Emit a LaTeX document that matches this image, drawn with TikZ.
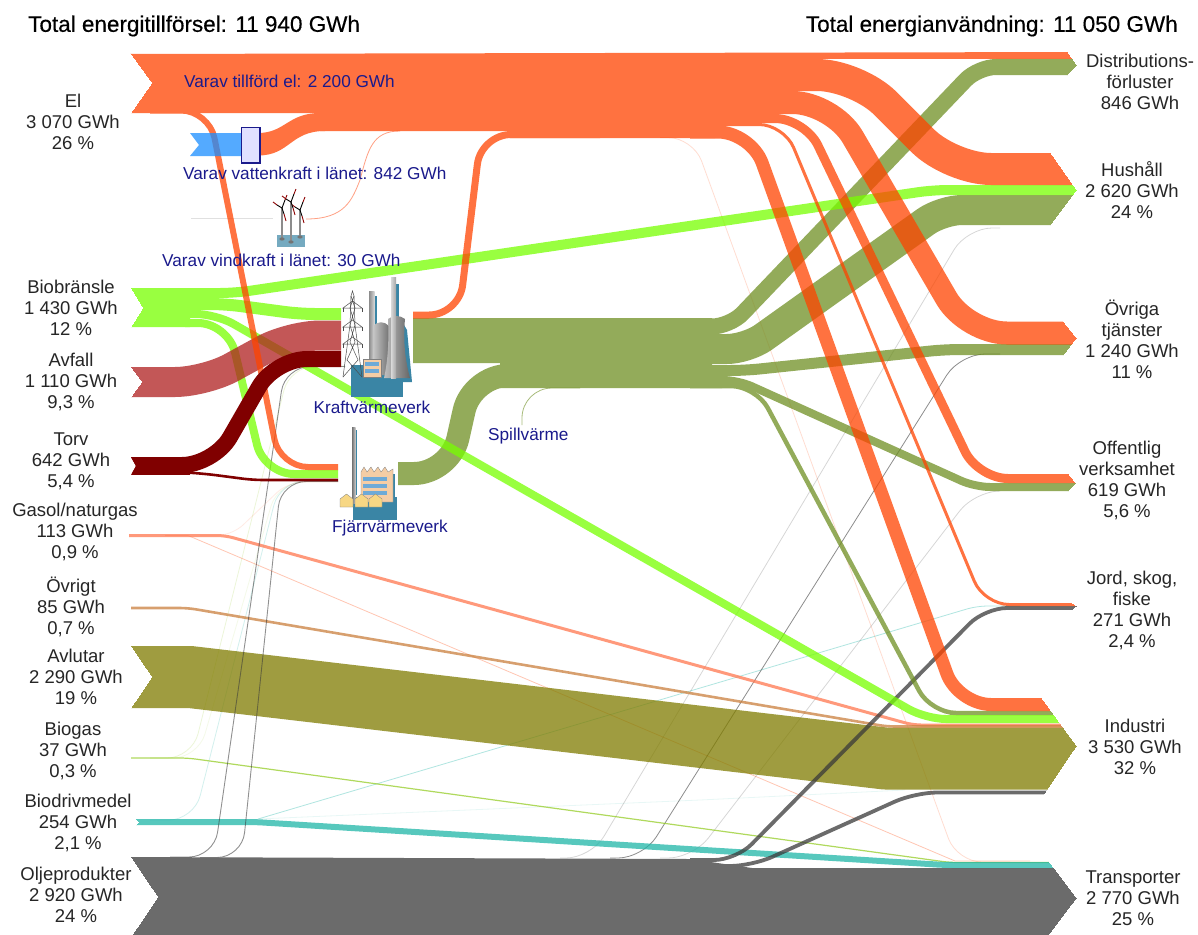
\documentclass[tikz,border=0pt]{standalone}
\usepackage{fontspec}
\setmainfont{Liberation Sans}
\newfontfamily\titlefont[FakeBold=0.35]{Liberation Sans}
\definecolor{cOrange}{RGB}{255,68,0}
\definecolor{cOlive}{RGB}{111,143,35}
\definecolor{cGreen}{RGB}{119,255,0}
\definecolor{cRed}{RGB}{175,31,31}
\definecolor{cMaroon}{RGB}{128,0,0}
\definecolor{cAvlut}{RGB}{128,124,0}
\definecolor{cGrey}{RGB}{58,58,58}
\definecolor{cTurq}{RGB}{31,182,168}
\definecolor{cBlue}{RGB}{28,142,255}
\definecolor{cSalmon}{RGB}{255,120,80}
\definecolor{cTan}{RGB}{202,128,62}
\definecolor{cBiogas}{RGB}{150,205,40}
\definecolor{cNavy}{RGB}{26,26,140}
\definecolor{cTeal}{RGB}{58,133,165}
\definecolor{cPeach}{RGB}{245,205,165}
\definecolor{cWin}{RGB}{110,170,215}
\tikzset{
  lab/.style={font=\fontsize{18.5}{21}\selectfont,align=center,text=black!85,inner sep=0pt},
  blab/.style={font=\fontsize{17.2}{20}\selectfont,text=cNavy,inner sep=0pt},
  ttl/.style={font=\fontsize{22.5}{26}\titlefont,text=black,inner sep=0pt},
  band/.style={draw=#1,line join=round,fill=none},
  pale/.style={draw=#1,line width=.8pt,opacity=.3,fill=none},
  grp/.style={transparency group,opacity=.75},
  pyl/.style={draw=black!70,line width=.5pt},
}
\newcommand{\clipregion}{\clip
 (131,54)--(152,83)--(131,113)--(131,288)--(143,308)--(131,327)--(131,367)--(142,382)--(131,397)--
 (131,457)--(136,466)--(131,475)--(129,533)--(129,537)--(131,606)--(131,610)--(131,646)--(152,677)--(131,708)--
 (131,757)--(131,760)--(136,819)--(139,822)--(136,825)--(131,857)--(158,897)--(131,937)--(1048,940)--
 (1048,935)--(1076,898)--(1048,861)--(1043,795)--(1076,746)--(1041,698)--(1071,610)--(1076,606)--(1071,603)--
 (1068,491)--(1075,483)--(1068,474)--(1063,355)--(1076,338)--(1063,322)--(1050,225)--(1076,190)--(1050,153)--
 (1067,75)--(1076,65)--(1067,52)--(1067,40)--(120,40)--cycle;}
\begin{document}
\begin{tikzpicture}[x=1pt,y=-1pt]
\useasboundingbox (0,0) rectangle (1198,934);
\fill[white] (0,0) rectangle (1198,934);

% very pale lines
\draw[pale=black,opacity=.12,line width=.8pt] (191,218)--(273,218);
\draw[pale=cBiogas,opacity=.18,rounded corners=25pt] (150,758)--(192,758)--(290,366)--(345,366);
\draw[pale=cBiogas,opacity=.1,rounded corners=25pt] (150,758)--(198,758)--(278,482)--(338,482);
\draw[pale=cTurq,opacity=.2,rounded corners=25pt] (150,820)--(194,820)--(280,481)--(338,481);
\draw[pale=cSalmon,opacity=.15,rounded corners=15pt] (200,535.5)--(232,535.5)--(288,482)--(338,482);
\draw[pale=cTurq,opacity=.1] (258,819)--(700,800)--(905,790);
\draw[pale=cTurq,opacity=.35,rounded corners=10pt] (258,819)--(977,606)--(1020,606);
\draw[pale=cOrange,opacity=.18,rounded corners=25pt] (660,137.5)--(693,137.5)--(957,862)--(1010,862);
\draw[pale=cOrange,opacity=.3] (165,535.5)--(188,535.5)--(955,861)--(1030,861);
\draw[pale=black,opacity=.16,rounded corners=25pt] (560,858)--(591,858)--(967,228)--(1000,228);
\draw[pale=black,opacity=.45,rounded corners=25pt] (610,858)--(643,858)--(960,354)--(1000,354);
\draw[pale=black,opacity=.16,rounded corners=25pt] (660,858)--(693,858)--(975,491)--(1000,491);
\draw[pale=cOlive,opacity=.6,rounded corners=30pt,line width=.8pt] (522,425)--(522,388)--(580,388);
\draw[pale=cSalmon,opacity=.7,line width=.8pt] (306,219) .. controls (345,219) and (352,200) .. (360,180) .. controls (368,150) and (372,131) .. (400,131);

\begin{scope}
\clipregion
% Avlutar
\begin{scope}[grp]
 \draw[band=cAvlut,line width=62pt] (125,677)--(190,677)--(885,758.5)--(1085,758.5);
\end{scope}
% thin source flows
\begin{scope}[grp]
 \draw[band=cSalmon,line width=3pt,rounded corners=8pt] (125,535.5)--(225,535.5)--(913,725)--(1085,725);
\end{scope}
\begin{scope}[grp]
 \draw[band=cTan,line width=2.6pt,rounded corners=8pt] (125,608)--(188,608)--(887,726.5)--(1085,726.5);
\end{scope}
\begin{scope}[grp]
 \draw[band=cBiogas,line width=1.2pt,rounded corners=8pt] (125,758)--(188,758)--(950,862.5)--(1085,862.5);
\end{scope}
\begin{scope}[grp]
 \draw[band=cTurq,line width=6pt,rounded corners=8pt] (125,822)--(255,822)--(945,865)--(1085,865);
\end{scope}
% grey
\begin{scope}[grp]
 \fill[cGrey] (125,857)--(690,859)--(752,868)--(1085,868)--(1085,945)--(125,945)--cycle;
 \draw[band=cGrey,line width=3.8pt,rounded corners=22pt] (690,860)--(736,860)--(985,608)--(1085,608);
 \draw[band=cGrey,line width=3.8pt,rounded corners=22pt] (700,866)--(752,866)--(915,792.5)--(1085,792.5);
 \draw[band=cGrey,line width=.9pt,opacity=.75,rounded corners=25pt] (170,857)--(214,857)--(285,366.5)--(345,366.5);
 \draw[band=cGrey,line width=.9pt,opacity=.75,rounded corners=25pt] (200,857.5)--(242,857.5)--(281,481.5)--(338,481.5);
\end{scope}
% olive
\begin{scope}[grp]
 \fill[cOlive] (413,318)--(712,318)--(712,365)--(722,365)--(722,388)--(500,388)--(500,363)--(413,363)--cycle;
 \draw[band=cOlive,line width=23pt,rounded corners=36pt] (398,473.5)--(450,473.5)--(472,375.5)--(700,375.5);
 \draw[band=cOlive,line width=16pt,rounded corners=18pt] (690,326.5)--(730,326.5)--(978,67)--(1085,67);
 \draw[band=cOlive,line width=30pt,rounded corners=20pt] (690,349)--(747,349)--(942,210)--(1085,210);
 \draw[band=cOlive,line width=11pt,rounded corners=15pt] (690,370.5)--(745,370.5)--(945,349.5)--(1085,349.5);
 \draw[band=cOlive,line width=8pt,rounded corners=15pt] (690,380)--(738,380)--(975,487)--(1085,487);
 \draw[band=cOlive,line width=4.5pt,rounded corners=25pt] (690,386)--(756,386)--(931,713)--(1085,713);
\end{scope}
% bright green
\begin{scope}[grp]
 \fill[cGreen] (125,288)--(190,288)--(190,327)--(125,327)--cycle;
 \draw[band=cGreen,line width=10pt,rounded corners=15pt] (185,293)--(235,293)--(933,190)--(1085,190);
 \draw[band=cGreen,line width=12pt,rounded corners=15pt] (185,304)--(225,304)--(300,314)--(341,314);
 \draw[band=cGreen,line width=8pt,rounded corners=20pt] (185,314)--(216,314)--(926,719)--(1085,719);
 \draw[band=cGreen,line width=8pt,rounded corners=30pt] (185,323)--(228,323)--(264,474)--(338,474);
\end{scope}
% red
\begin{scope}[grp]
 \draw[band=cRed,line width=30pt,rounded corners=30pt] (125,382)--(205,382)--(290,335.5)--(341,335.5);
\end{scope}
% orange
\begin{scope}[grp]
 \fill[cOrange] (125,54)--(1085,52)--(1085,59)--(800,59)--(800,91)--(770,91)--(770,114)--(745,114)--(745,123)--(715,123)--(715,138)--(510,138)--(510,131)--(320,131)--(320,113)--(125,113)--cycle;
 \fill[cOrange] (258,133) .. controls (285,133) and (288,113) .. (320,113) -- (325,131) .. controls (290,131) and (290,155.5) .. (258,155.5) --cycle;
 \draw[band=cOrange,line width=7pt,rounded corners=30pt] (413,315)--(459,315)--(481,134.5)--(600,134.5);
 \draw[band=cOrange,line width=32pt,rounded corners=40pt] (780,75)--(857,75)--(951,169)--(1085,169);
 \draw[band=cOrange,line width=23pt,rounded corners=40pt] (760,102.5)--(832.6,102.5)--(966.6,333)--(1085,333);
 \draw[band=cOrange,line width=9pt,rounded corners=30pt] (730,118.5)--(805,118.5)--(978,478.5)--(1085,478.5);
 \draw[band=cOrange,line width=3pt,rounded corners=25pt] (700,124.5)--(784,124.5)--(984,604.5)--(1085,604.5);
 \draw[band=cOrange,line width=13pt,rounded corners=33pt] (690,132)--(751,132)--(958,704.5)--(1085,704.5);
 \draw[band=cOrange,line width=6pt,rounded corners=28pt] (150,110.5)--(209,110.5)--(280,467)--(338,467);
\end{scope}
% maroon
 \draw[band=cMaroon,line width=16pt,rounded corners=32pt] (125,465)--(214,465)--(275,359)--(341,359);
 \fill[cMaroon] (125,457)--(190,457)--(190,475)--(125,475)--cycle;
 \draw[band=cMaroon,line width=2.6pt,rounded corners=10pt] (180,472)--(207,474)--(253,480)--(338,480);
\end{scope}

% hydro source and generator
\fill[cBlue,opacity=.75] (190,133)--(199,145)--(190,156)--(241,156)--(241,133)--cycle;
\draw[cNavy,fill=blue!12,line width=1.5pt] (241.5,127.5) rectangle (260,163);

% wind turbines
\fill[cTeal!70!white] (277,235) rectangle (305,247);
\foreach \tx/\ty/\tb in {282/208/239,300/210/237,291/202/242}{
  \fill[black!45] (\tx-1,\ty) rectangle (\tx+1,\tb);
  \fill[black!55] (\tx,\tb) ellipse (2.6 and 1.6);
  \draw[black,line width=.9pt] (\tx,\ty)--(\tx+3,\ty-8);
  \draw[red!55!black,line width=.9pt] (\tx+3,\ty-8)--(\tx+5,\ty-13);
  \draw[black,line width=.9pt] (\tx,\ty)--(\tx-5,\ty-3);
  \draw[red!55!black,line width=.9pt] (\tx-5,\ty-3)--(\tx-9,\ty-6);
  \draw[black,line width=.9pt] (\tx,\ty)--(\tx+2,\ty+6);
  \draw[red!55!black,line width=.9pt] (\tx+2,\ty+6)--(\tx+4,\ty+13);
}

% Kraftvarmeverk icon
\fill[cTeal] (351,365) rectangle (403,397);
\fill[cTeal] (375,296) rectangle (377,350);
\fill[cTeal] (396,284) rectangle (399,330);
\fill[cTeal] (404,325)--(407,330)--(412,382)--(385,382)--(385,370)--cycle;
\shade[left color=black!45,right color=black!15] (369,291) rectangle (374.5,360);
\shade[left color=black!20,right color=black!55] (373,326) .. controls (378,321) and (384,321) .. (389,326) -- (389,375) -- (372,375) .. controls (373,355) and (374,340) .. (373,326) --cycle;
\shade[left color=black!25,right color=black!60] (388,319) .. controls (393,315) and (400,315) .. (405,319) .. controls (403,340) and (405,360) .. (410,378) -- (384,378) .. controls (388,360) and (389,340) .. (388,319) --cycle;
\shade[left color=black!15,right color=black!35] (391,277) rectangle (396,378);
\fill[cPeach,draw=black!50,line width=.3pt] (363,359) rectangle (381,377);
\fill[cWin] (365,362) rectangle (379,366);
\fill[cWin] (365,369) rectangle (379,373);
% pylon
\draw[pyl] (343,377)--(350,325)--(351,296)--(352.5,291)--(354,296)--(355,325)--(362,377);
\draw[pyl] (350,325)--(355,342)--(347,360)--(362,377) (355,325)--(350,342)--(358,360)--(343,377);
\draw[pyl] (351,296)--(355,308)--(350,325) (354,296)--(350,308)--(355,325);
\draw[pyl] (343,308)--(362,308)--(352.5,301)--cycle;
\draw[pyl] (343,327)--(362,327)--(352.5,320)--cycle;
\draw[pyl] (343,344)--(362,344)--(352.5,337)--cycle;
\draw[pyl] (343,308)--(343,312) (362,308)--(362,312) (343,327)--(343,331) (362,327)--(362,331) (343,344)--(343,348) (362,344)--(362,348);

% Fjarrvarmeverk icon
\fill[cTeal] (353,497) rectangle (397,520);
\fill[cTeal] (355,430) rectangle (356.5,495);
\shade[left color=black!55,right color=black!20] (352,427) rectangle (355.5,503);
\fill[cTeal] (393,474) rectangle (395,502);
\fill[cPeach,draw=black!50,line width=.3pt] (361,472)--(364,467)--(367,472)--(371,467)--(374,472)--(378,467)--(381,472)--(385,467)--(388,472)--(393,469)--(393,502)--(361,502)--cycle;
\foreach \wy in {477,484,491}{\fill[cWin] (363,\wy) rectangle (387,\wy+4);}
\foreach \hx in {340,355,369}{
 \fill[cPeach!80!yellow,draw=black!50,line width=.3pt] (\hx,507)--(\hx,499)--(\hx+6.5,494)--(\hx+13,499)--(\hx+13,507)--cycle;}

% labels: blue
\node[blab,anchor=west] (tillford) at (184,81) {Varav tillförd el: 2 200 GWh};
\node[blab,anchor=west] (vatten) at (183,173) {Varav vattenkraft i länet: 842 GWh};
\node[blab,anchor=west] (vind) at (162,260) {Varav vindkraft i länet: 30 GWh};
\node[blab] (kraft) at (372,407.5) {Kraftvärmeverk};
\node[blab] (fjarr) at (390,528.5) {Fjärrvärmeverk};
\node[blab,anchor=west] (spill) at (488,436.5) {Spillvärme};

% titles
\node[ttl,anchor=west] (tin) at (28,26) {Total energitillförsel: 11 940 GWh};
\node[ttl,anchor=east] (tut) at (1178,26) {Total energianvändning: 11 050 GWh};

% left labels
\node[lab] (el) at (73,121.5) {El\\3 070 GWh\\26 \%};
\node[lab] (bio) at (71,307.5) {Biobränsle\\1 430 GWh\\12 \%};
\node[lab] (avf) at (71,381.5) {Avfall\\1 110 GWh\\9,3 \%};
\node[lab] (torv) at (71,461.5) {Torv\\642 GWh\\5,4 \%};
\node[lab] (gas) at (75,531.5) {Gasol/naturgas\\113 GWh\\0,9 \%};
\node[lab] (ovr) at (71,606.5) {Övrigt\\85 GWh\\0,7 \%};
\node[lab] (avl) at (76,676.5) {Avlutar\\2 290 GWh\\19 \%};
\node[lab] (biog) at (73,750.5) {Biogas\\37 GWh\\0,3 \%};
\node[lab] (biod) at (78,822.5) {Biodrivmedel\\254 GWh\\2,1 \%};
\node[lab] (olj) at (76,894.5) {Oljeprodukter\\2 920 GWh\\24 \%};

% right labels
\node[lab] (dist) at (1140,81.5) {Distributions-\\förluster\\846 GWh};
\node[lab] (hus) at (1132,190) {Hushåll\\2 620 GWh\\24 \%};
\node[lab] (otj) at (1132,339.5) {Övriga\\tjänster\\1 240 GWh\\11 \%};
\node[lab] (off) at (1127,480) {Offentlig\\verksamhet\\619 GWh\\5,6 \%};
\node[lab] (jord) at (1132,610) {Jord, skog,\\fiske\\271 GWh\\2,4 \%};
\node[lab] (ind) at (1135,746.5) {Industri\\3 530 GWh\\32 \%};
\node[lab] (tra) at (1133,898.5) {Transporter\\2 770 GWh\\25 \%};
\end{tikzpicture}
\end{document}
